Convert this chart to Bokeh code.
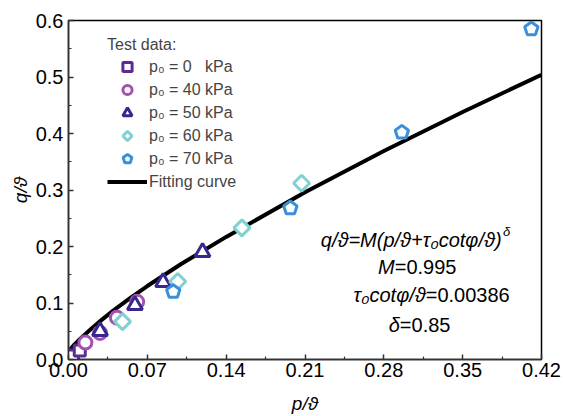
from bokeh.plotting import figure
from bokeh.models import FixedTicker, Legend, LegendItem, Label, PrintfTickFormatter, Range1d
from bokeh.embed import file_html
from bokeh.resources import INLINE

# ---- data ----
sq_x = [0.004, 0.010]
sq_y = [0.007, 0.016]
circ_x = [0.015, 0.028, 0.043, 0.061]
circ_y = [0.030, 0.047, 0.074, 0.102]
tri_x = [0.028, 0.059, 0.084, 0.119]
tri_y = [0.050, 0.096, 0.137, 0.190]
diam_x = [0.048, 0.097, 0.154, 0.207]
diam_y = [0.067, 0.138, 0.233, 0.312]
pent_x = [0.093, 0.197, 0.296, 0.411]
pent_y = [0.120, 0.268, 0.402, 0.585]

curve_p = [0.0, 0.005, 0.01, 0.02, 0.03, 0.04, 0.055, 0.07, 0.10, 0.14, 0.21, 0.28, 0.35, 0.42]
curve_q = [0.014, 0.026, 0.036, 0.054, 0.071, 0.087, 0.109, 0.130, 0.169, 0.217, 0.296, 0.369, 0.438, 0.504]

x_ticks = [0.0, 0.07, 0.14, 0.21, 0.28, 0.35, 0.42]
x_minor = [0.035, 0.105, 0.175, 0.245, 0.315, 0.385]
y_ticks = [0.0, 0.1, 0.2, 0.3, 0.4, 0.5, 0.6]
y_minor = [0.05, 0.15, 0.25, 0.35, 0.45, 0.55]

labels = ["p\u2080 = 0   kPa", "p\u2080 = 40 kPa", "p\u2080 = 50 kPa", "p\u2080 = 60 kPa", "p\u2080 = 70 kPa", "Fitting curve"]

FONT = "Liberation Sans"
c_sq = "#5b2d92"
c_circ = "#a452b2"
c_tri = "#36288f"
c_diam = "#7fd2cf"
c_pent = "#3b8fd8"

p = figure(width=563, height=416, output_backend="svg", toolbar_location=None,
           x_range=Range1d(0, 0.42), y_range=Range1d(0, 0.6),
           min_border_left=68, min_border_right=22, min_border_top=20, min_border_bottom=56)
p.background_fill_color = "white"
p.border_fill_color = "white"
p.grid.visible = False
p.outline_line_color = "black"
p.outline_line_width = 1.5

for ax in (p.xaxis[0], p.yaxis[0]):
    ax.axis_line_color = "#333333"
    ax.axis_line_width = 1.5
    ax.major_tick_in = 5
    ax.major_tick_out = 0
    ax.minor_tick_in = 3
    ax.minor_tick_out = 0
    ax.major_tick_line_color = "#333333"
    ax.minor_tick_line_color = "#333333"
    ax.major_tick_line_width = 1.5
    ax.minor_tick_line_width = 1.2
    ax.major_label_text_font = FONT
    ax.major_label_text_font_size = "20px"
    ax.major_label_text_color = "black"
    ax.axis_label_text_font = FONT
    ax.axis_label_text_font_size = "19px"
    ax.axis_label_text_font_style = "italic"
    ax.axis_label_text_color = "black"

p.xaxis.ticker = FixedTicker(ticks=x_ticks, minor_ticks=x_minor)
p.yaxis.ticker = FixedTicker(ticks=y_ticks, minor_ticks=y_minor)
p.xaxis.formatter = PrintfTickFormatter(format="%.2f")
p.yaxis.formatter = PrintfTickFormatter(format="%.1f")
p.xaxis.axis_label = "p/\u03d1"
p.yaxis.axis_label = "q/\u03d1"
p.xaxis.major_label_standoff = 3
p.xaxis.axis_label_standoff = 13
p.yaxis.major_label_standoff = 5
p.yaxis.axis_label_standoff = 2

lw = 3
r_curve = p.line(curve_p, curve_q, line_color="black", line_width=4)
r_sq = p.scatter(sq_x, sq_y, marker="square", size=11, line_color=c_sq, line_width=lw, fill_color="white")
r_circ = p.scatter(circ_x, circ_y, marker="circle", size=13, line_color=c_circ, line_width=lw, fill_color="white")
r_tri = p.scatter(tri_x, tri_y, marker="triangle", size=15, line_color=c_tri, line_width=lw, fill_color="white")
r_diam = p.ngon(diam_x, diam_y, radius=8, radius_units="screen", n=4, angle=0,
                line_color=c_diam, line_width=lw, fill_color="white")
r_pent = p.ngon(pent_x, pent_y, radius=7, radius_units="screen", n=5, angle=0,
                line_color=c_pent, line_width=lw, fill_color="white")

legend = Legend(items=[LegendItem(label=labels[0], renderers=[r_sq]),
                       LegendItem(label=labels[1], renderers=[r_circ]),
                       LegendItem(label=labels[2], renderers=[r_tri]),
                       LegendItem(label=labels[3], renderers=[r_diam]),
                       LegendItem(label=labels[4], renderers=[r_pent]),
                       LegendItem(label=labels[5], renderers=[r_curve])],
                location=(39, 166), title="Test data:",
                title_text_font=FONT, title_text_font_size="16px", title_text_font_style="normal",
                label_text_font=FONT, label_text_font_size="16px",
                glyph_width=40, glyph_height=23, label_height=23, spacing=0,
                label_standoff=2, title_standoff=1, padding=0, margin=0,
                border_line_color=None, background_fill_alpha=0)
p.add_layout(legend)

def lab(x, y, text, align="left", style="normal", size="20px"):
    p.add_layout(Label(x=x, y=y, text=text, text_align=align, text_baseline="middle",
                       text_font=FONT, text_font_size=size, text_font_style=style, text_color="black"))

lab(0.3846, 0.2116, "q/\u03d1=M(p/\u03d1+\u03c4\u2080cot\u03c6/\u03d1)", align="right", style="italic")
lab(0.3858, 0.226, "\u03b4", style="italic", size="13px")
lab(0.2897, 0.164, "M", align="right", style="italic")
lab(0.2897, 0.164, "=0.995")
lab(0.3172, 0.1146, "\u03c4\u2080cot\u03c6/\u03d1", align="right", style="italic")
lab(0.3172, 0.1146, "=0.00386")
lab(0.2942, 0.0617, "\u03b4", align="right", style="italic")
lab(0.2942, 0.0617, "=0.85")

open("out.html", "w").write(file_html(p, INLINE))
